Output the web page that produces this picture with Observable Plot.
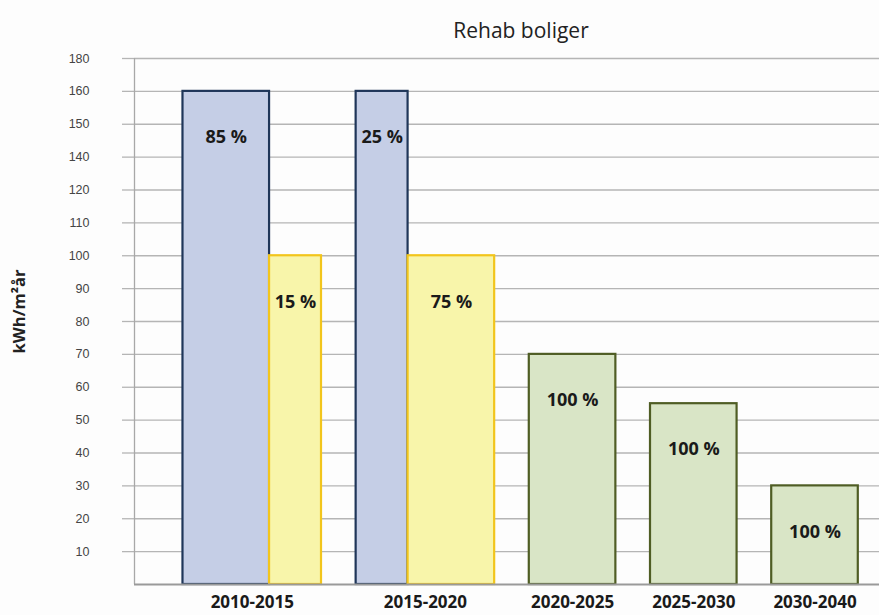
<!DOCTYPE html>
<html><head><meta charset="utf-8">
<script src="https://cdn.jsdelivr.net/npm/d3@7"></script>
<script src="https://cdn.jsdelivr.net/npm/@observablehq/plot@0.6"></script>
<style>html,body{margin:0;padding:0;background:#fdfdfd} #chart{width:879px;height:615px}</style>
</head><body><div id="chart"></div>
<script>
const title = "Rehab boliger";
const yLabel = "kWh/m²år";
const periods = ["2010-2015", "2015-2020", "2020-2025", "2025-2030", "2030-2040"];
// tick labels exactly as printed on the original axis (evenly spaced gridlines)
const yTicks = [10, 20, 30, 40, 50, 60, 70, 80, 90, 100, 110, 120, 140, 150, 160, 180];
const blueValues = [160, 160, null, null, null];
const blueShares = [85, 25, null, null, null];
const yellowValues = [100, 100, null, null, null];
const yellowShares = [15, 75, null, null, null];
const greenValues = [null, null, 70, 55, 30];
const greenShares = [null, null, 100, 100, 100];

const styles = {
  blue: {fill: "#c5cee6", stroke: "#1f3659"},
  yellow: {fill: "#f8f5aa", stroke: "#f2c51c"},
  green: {fill: "#d9e5c6", stroke: "#4f5d24"}
};
const WIDE = 1, NARROW = 0.6, GAP = 0.4;
const bars = [], groups = [];
let cursor = 0;
periods.forEach((p, i) => {
  const start = cursor;
  [["blue", blueValues, blueShares], ["yellow", yellowValues, yellowShares], ["green", greenValues, greenShares]]
    .forEach(([s, v, sh]) => {
      if (v[i] == null) return;
      const w = sh[i] >= 50 ? WIDE : NARROW;
      bars.push({period: p, series: s, value: v[i], share: sh[i], x1: cursor, x2: cursor + w});
      cursor += w;
    });
  groups.push({period: p, x: (start + cursor) / 2});
  cursor += GAP;
});
const xDomain = [-0.56, cursor - GAP + 0.245];
const yDomain = [0, ...yTicks];

const gridColor = "#b5b5b5";
const boldFont = "'Open Sans', sans-serif";

const barMarks = Object.entries(styles).map(([s, st]) =>
  Plot.rectY(bars.filter(d => d.series === s), {x1: "x1", x2: "x2", y: "value", fill: st.fill, stroke: st.stroke, strokeWidth: 2.2})
);

const chart = Plot.plot({
  width: 879,
  height: 615,
  marginTop: 58,
  marginBottom: 31,
  marginLeft: 134,
  marginRight: 0,
  style: {background: "transparent", overflow: "visible"},
  x: {type: "linear", domain: xDomain, axis: null},
  y: {type: "linear", domain: yDomain, axis: null},
  marks: [
    Plot.ruleY(yTicks, {stroke: gridColor, strokeWidth: 1.3}),
    Plot.axisY(yTicks, {tickSize: 12, tickPadding: 33, stroke: gridColor, strokeWidth: 1.3, fill: "#444", fontSize: 12.5, fontFamily: "'Liberation Sans', Arial, sans-serif", tickFormat: d => String(d), label: null}),
    Plot.ruleX([xDomain[0]], {stroke: "#a8a8a8", strokeWidth: 1.3}),
    ...barMarks,
    Plot.ruleY([0], {x1: xDomain[0], x2: xDomain[1], stroke: "#9a9a9a", strokeWidth: 2}),
    Plot.ruleY([0], {x1: xDomain[0], x2: xDomain[0], dx: -12, stroke: "#9a9a9a", strokeWidth: 2}),
    Plot.text(bars, {x: d => (d.x1 + d.x2) / 2, y: "value", text: d => d.share + " %", dy: 46, fontSize: 18, fontWeight: "bold", fill: "#1a1a1a", fontFamily: boldFont}),
    Plot.text(groups, {x: "x", text: "period", frameAnchor: "bottom", dy: 23, fontSize: 17, fontWeight: "bold", fill: "#1a1a1a", fontFamily: boldFont}),
    Plot.text([title], {frameAnchor: "top", dx: 14, dy: -35, fontSize: 21, fill: "#222", fontFamily: boldFont}),
    Plot.text([yLabel], {frameAnchor: "left", textAnchor: "middle", dx: -115, dy: -10, rotate: -90, fontSize: 16.5, fontWeight: "bold", fill: "#222", fontFamily: boldFont})
  ]
});
document.getElementById("chart").append(chart);
</script>
</body></html>
